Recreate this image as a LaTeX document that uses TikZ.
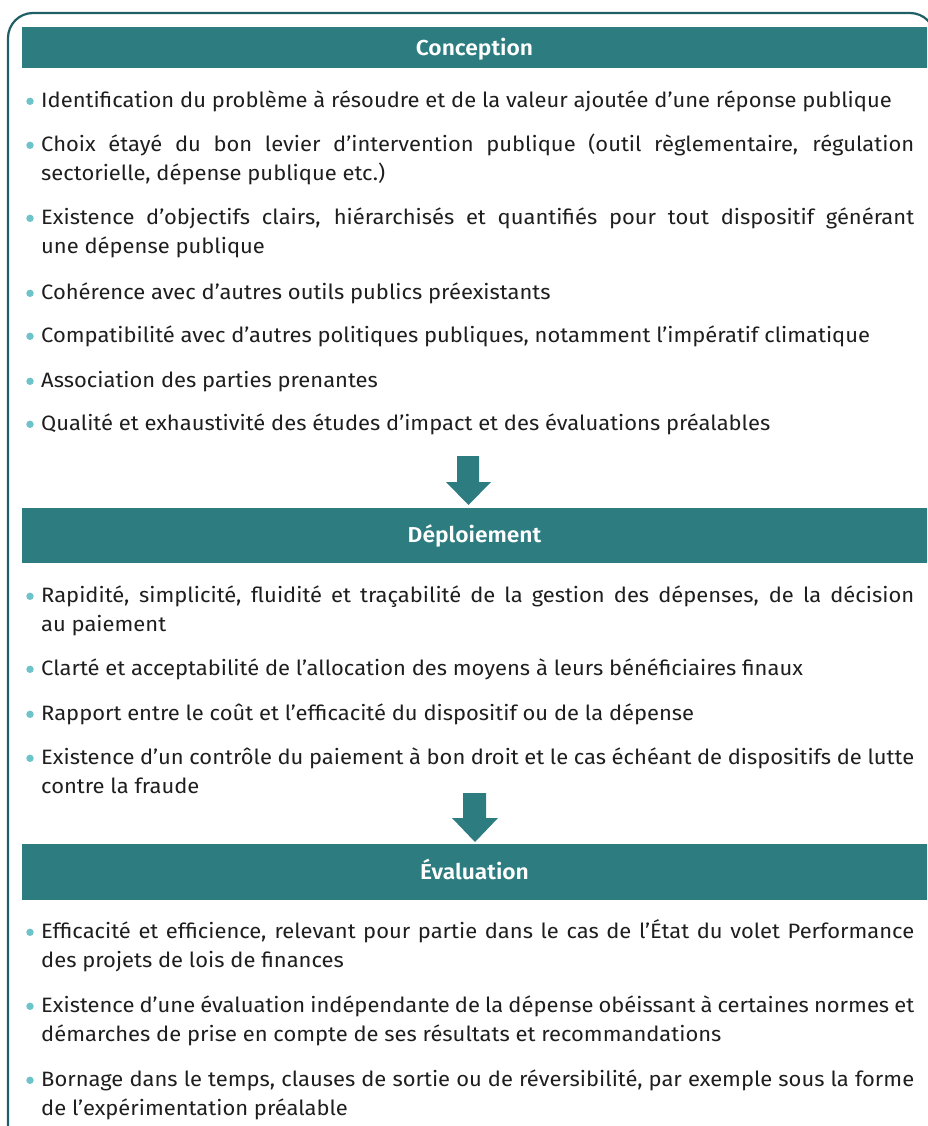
\documentclass[tikz,border=0pt]{standalone}
\usepackage{fontspec}
\setmainfont[FakeStretch=1.055]{Fira Sans}
\newfontfamily\headfam[FakeStretch=1.055]{Fira Sans SemiBold}
\usetikzlibrary{calc}
\definecolor{barcol}{HTML}{2C7C80}
\definecolor{bordercol}{HTML}{1D5F64}
\definecolor{bulletcol}{HTML}{6CC3CA}
\definecolor{textcol}{HTML}{1E1E1E}
\newcommand\itemfont{\fontsize{20.8}{29.5}\selectfont}
\newcommand\headfont{\headfam\fontsize{21.6}{24}\selectfont}
\tikzset{
  itembox/.style={anchor=north west, inner sep=0pt, text width=873pt, align=justify, font=\itemfont, text=textcol},
  headbar/.style={fill=barcol, text=white, font=\headfont, minimum width=905pt, inner sep=0pt, text height=14.8pt, text depth=0pt},
  blockarrow/.style={fill=barcol},
  bulletdot/.style={fill=bulletcol},
  frame/.style={draw=bordercol, line width=2.2pt, rounded corners=25pt}
}
\newcommand\itm[3]{%
  \node[itembox] (#1) at (41,#2-22) {\hyphenpenalty=10000\exhyphenpenalty=10000\rule{0pt}{22pt}#3};
  \fill[bulletdot] ($(#1.north west)+(-11,16.3)$) circle (3.7pt);
}
\begin{document}
\begin{tikzpicture}[x=1pt,y=-1pt]
\useasboundingbox (0,0) rectangle (928,1126);
\clip (0,0) rectangle (928,1126);
\draw[frame] (8,13) rectangle (935,1152);

% headers
\node[headbar, minimum height=41pt] (hc) at (474.5,48) {Conception};
\node[headbar, minimum height=55pt] (hd) at (474.5,535.5) {Déploiement};
\node[headbar, minimum height=56pt] (he) at (474.5,872) {Évaluation};

% Conception
\itm{c1}{107}{Identification du problème à résoudre et de la valeur ajoutée d’une réponse publique}
\itm{c2}{151}{Choix étayé du bon levier d’intervention publique (outil règlementaire, régulation \linebreak sectorielle, dépense publique etc.)}
\itm{c3}{224}{Existence d’objectifs clairs, hiérarchisés et quantifiés pour tout dispositif générant \linebreak une dépense publique}
\itm{c4}{299}{Cohérence avec d’autres outils publics préexistants}
\itm{c5}{342}{Compatibilité avec d’autres politiques publiques, notamment l’impératif climatique}
\itm{c6}{387}{Association des parties prenantes}
\itm{c7}{430}{Qualité et exhaustivité des études d’impact et des évaluations préalables}

% arrow 1
\fill[blockarrow] (457,456) -- (479,456) -- (479,482) -- (491,482) -- (468.5,505) -- (446,482) -- (457,482) -- cycle;

% Deploiement
\itm{d1}{602}{Rapidité, simplicité, fluidité et traçabilité de la gestion des dépenses, de la décision \linebreak au paiement}
\itm{d2}{675}{Clarté et acceptabilité de l’allocation des moyens à leurs bénéficiaires finaux}
\itm{d3}{720}{Rapport entre le coût et l’efficacité du dispositif ou de la dépense}
\itm{d4}{764}{Existence d’un contrôle du paiement à bon droit et le cas échéant de dispositifs de lutte \linebreak contre la fraude}

% arrow 2
\fill[blockarrow] (463,793) -- (486,793) -- (486,818) -- (498,818) -- (475,842) -- (452,818) -- (463,818) -- cycle;

% Evaluation
\itm{e1}{938}{Efficacité et efficience, relevant pour partie dans le cas de l’État du volet Performance \linebreak des projets de lois de finances}
\itm{e2}{1012}{Existence d’une évaluation indépendante de la dépense obéissant à certaines normes et \linebreak démarches de prise en compte de ses résultats et recommandations}
\itm{e3}{1086}{Bornage dans le temps, clauses de sortie ou de réversibilité, par exemple sous la forme \linebreak de l’expérimentation préalable}
\end{tikzpicture}
\end{document}
